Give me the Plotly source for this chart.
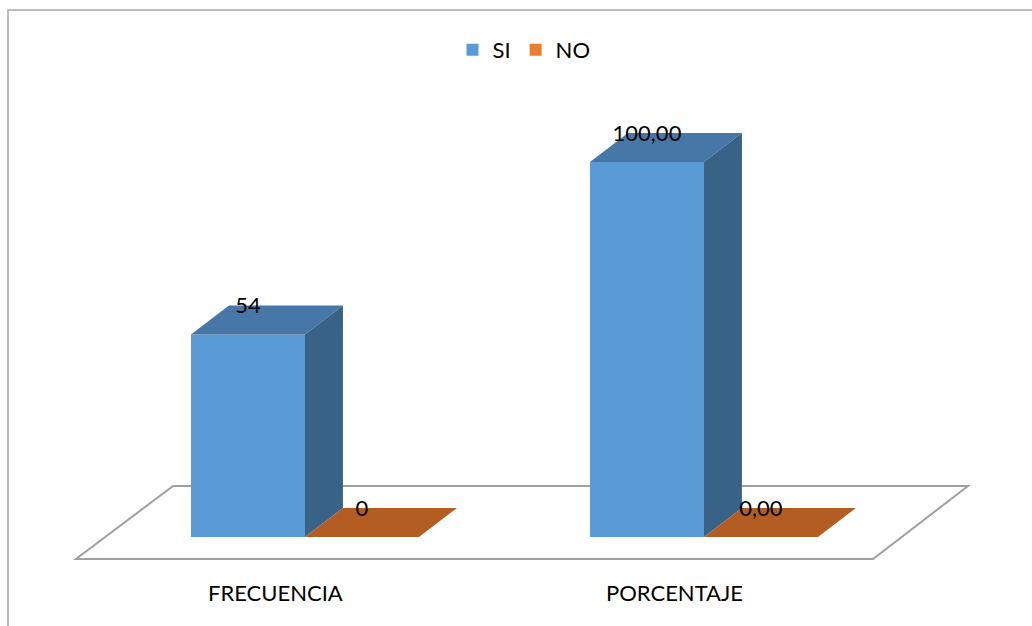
import plotly.graph_objects as go

# ---------------- data ----------------
categories = ["FRECUENCIA", "PORCENTAJE"]
series_names = ["SI", "NO"]
si_values = [54, 100.00]
no_values = [0, 0.00]
si_labels = ["54", "100,00"]
no_labels = ["0", "0,00"]

# ---------------- style ----------------
FONT = "Lato"
FS = 22
FRONT = {"SI": "#5B9BD5", "NO": "#ED7D31"}
TOP = {"SI": "#4677A7", "NO": "#B45D23"}
SIDE = {"SI": "#386387", "NO": "#9A4F1D"}
BAR_W = 0.2857           # bar width in category units
DEPTH_X = 0.095          # 3D depth offset (x, category units)
DEPTH_Y = 7.73           # 3D depth offset (y, value units)
OFFSETS = {"SI": -BAR_W, "NO": 0.0}

W, H = 1032, 626
fig = go.Figure()

xs = list(range(len(categories)))
series = {"SI": (si_values, si_labels), "NO": (no_values, no_labels)}

# front faces as bars
for name in series_names:
    vals, _ = series[name]
    fig.add_trace(go.Bar(
        x=xs, y=vals, width=BAR_W, offset=OFFSETS[name], name=name,
        marker=dict(color=FRONT[name], line=dict(width=0)),
        showlegend=True, hoverinfo="skip"))

# top and side faces derived from values
for name in series_names:
    vals, _ = series[name]
    for i, v in zip(xs, vals):
        x0 = i + OFFSETS[name]
        x1 = x0 + BAR_W
        fig.add_trace(go.Scatter(
            x=[x0, x1, x1 + DEPTH_X, x0 + DEPTH_X, x0],
            y=[v, v, v + DEPTH_Y, v + DEPTH_Y, v],
            mode="lines", fill="toself", fillcolor=TOP[name],
            line=dict(width=0, color=TOP[name]),
            showlegend=False, hoverinfo="skip"))
        if v > 0:
            fig.add_trace(go.Scatter(
                x=[x1, x1 + DEPTH_X, x1 + DEPTH_X, x1, x1],
                y=[0, DEPTH_Y, v + DEPTH_Y, v, 0],
                mode="lines", fill="toself", fillcolor=SIDE[name],
                line=dict(width=0, color=SIDE[name]),
                showlegend=False, hoverinfo="skip"))

# data labels
for name in series_names:
    vals, labels = series[name]
    fig.add_trace(go.Scatter(
        x=[i + OFFSETS[name] + BAR_W / 2 for i in xs],
        y=[v + DEPTH_Y - 0.6 for v in vals],
        mode="text", text=labels, textposition="middle center",
        textfont=dict(family=FONT, size=FS, color="#000000"),
        showlegend=False, hoverinfo="skip"))

# floor (decorative)
fl_front_y, fl_back_y = -5.87, 13.6
fl_fx0, fl_fx1 = -0.574, 1.4236
fl_bx0, fl_bx1 = -0.3308, 1.6617
fig.add_shape(type="path", xref="x", yref="y", layer="below",
              path=f"M{fl_fx0},{fl_front_y} L{fl_fx1},{fl_front_y} L{fl_bx1},{fl_back_y} L{fl_bx0},{fl_back_y} Z",
              line=dict(color="#A0A0A0", width=2), fillcolor="rgba(0,0,0,0)")

# outer border
fig.add_shape(type="rect", xref="paper", yref="paper",
              x0=8 / W, y0=-0.02, x1=1.02, y1=1 - 10 / H,
              line=dict(color="#A6A6A6", width=1.5), layer="below")

# category labels
for i, c in zip(xs, categories):
    fig.add_annotation(x=i - 0.073, y=-14.67, xref="x", yref="y", text=c,
                       showarrow=False, font=dict(family=FONT, size=FS, color="#000000"),
                       xanchor="center", yanchor="middle")

x_lo = -305 / 399
x_hi = (W - 305) / 399
y_lo = -(H - 537) / 3.75
y_hi = 537 / 3.75

fig.update_layout(
    width=W, height=H, margin=dict(l=0, r=0, t=0, b=0),
    paper_bgcolor="white", plot_bgcolor="white",
    barmode="overlay",
    xaxis=dict(range=[x_lo, x_hi], visible=False, fixedrange=True),
    yaxis=dict(range=[y_lo, y_hi], visible=False, fixedrange=True),
    legend=dict(orientation="h", x=524 / W, xanchor="center", y=1 - 50 / H, yanchor="middle",
                font=dict(family=FONT, size=FS, color="#000000"), bgcolor="rgba(0,0,0,0)",
                itemwidth=30),
    showlegend=True,
)

fig.write_html("out.html")
